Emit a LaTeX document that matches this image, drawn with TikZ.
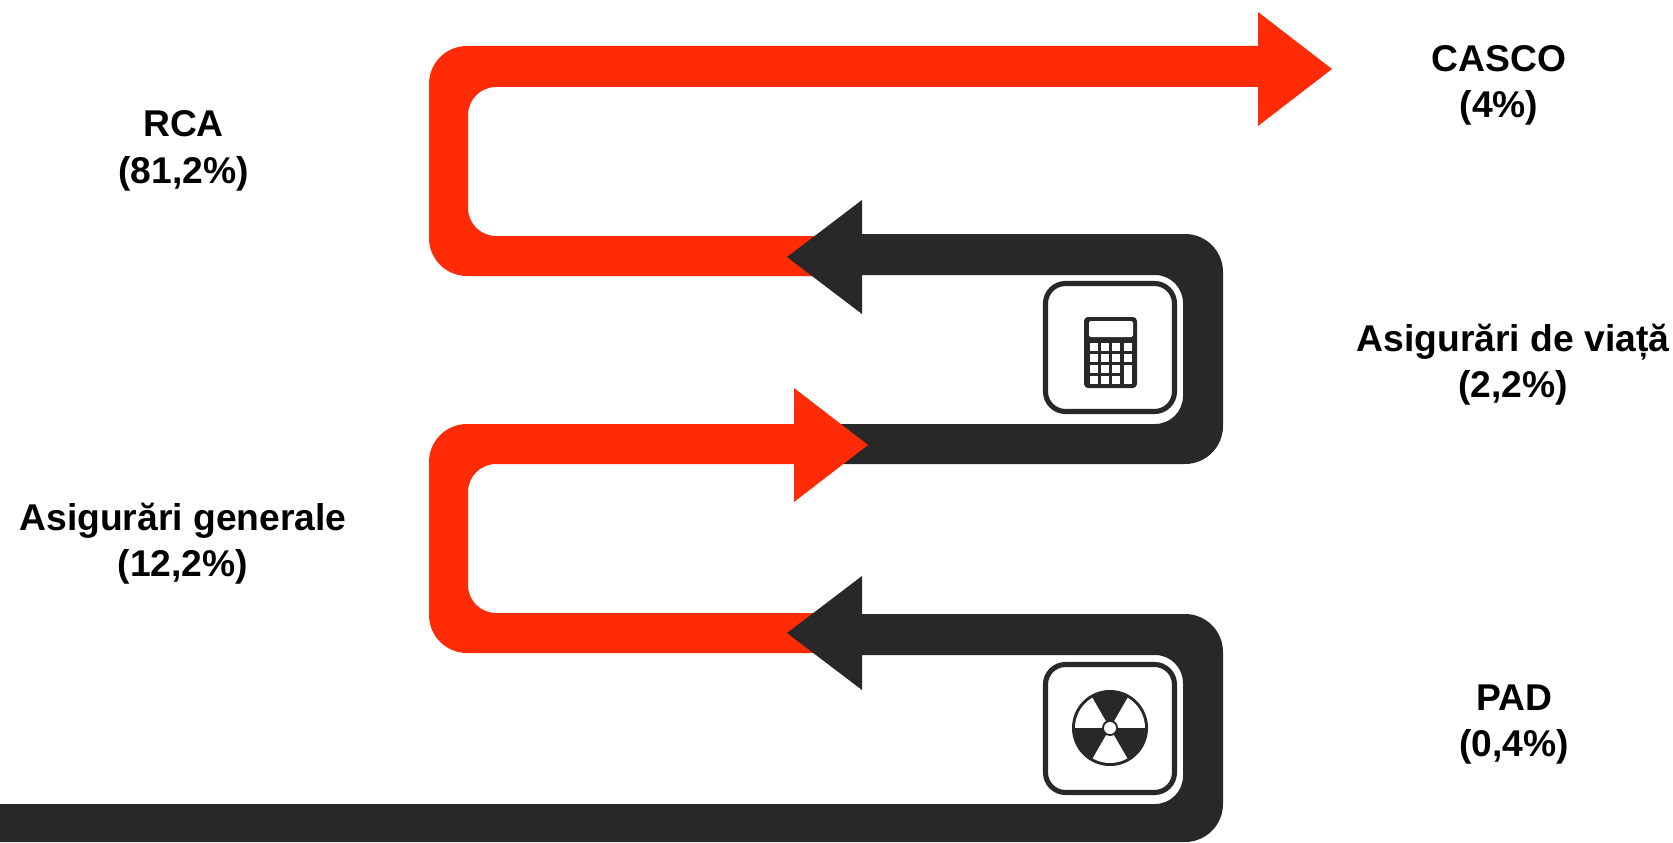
\documentclass[tikz,border=0pt]{standalone}
\usepackage{fontspec}
\setmainfont{Liberation Sans}
\definecolor{bandred}{HTML}{FF2B07}
\definecolor{banddark}{HTML}{282828}
\begin{document}
\begin{tikzpicture}[x=1cm,y=1cm, every node/.style={font=\fontsize{10.6}{13.2}\selectfont\bfseries, align=center}]
  % canvas 1673x842 px, 100 px = 1 cm
  \useasboundingbox (0,0) rectangle (16.73,8.42);
  \tikzset{iconbox/.style={draw=banddark, line width=1.45pt, fill=white, rounded corners=0.2cm}}

  % -- top red band, from the first dark head up to the long arrow --
  \fill[bandred] (8.2,5.66) -- (4.67,5.66) arc (270:180:0.38) -- (4.29,7.58) arc (180:90:0.38)
    -- (12.58,7.96) -- (12.58,8.30) -- (13.32,7.73) -- (12.58,7.16) -- (12.58,7.55)
    -- (4.96,7.55) arc (90:180:0.28) -- (4.68,6.34) arc (180:270:0.28) -- (8.2,6.06) -- cycle;

  % -- upper dark band --
  \fill[banddark] (8.3,3.78) -- (11.85,3.78) arc (-90:0:0.38) -- (12.23,5.70) arc (0:90:0.38)
    -- (8.62,6.08) -- (8.62,6.42) -- (7.87,5.85) -- (8.62,5.28) -- (8.62,5.67)
    -- (11.55,5.67) arc (90:0:0.28) -- (11.83,4.46) arc (0:-90:0.28) -- (8.3,4.18) -- cycle;

  % -- second red band --
  \fill[bandred] (8.2,1.89) -- (4.67,1.89) arc (270:180:0.38) -- (4.29,3.80) arc (180:90:0.38)
    -- (7.94,4.18) -- (7.94,4.54) -- (8.68,3.97) -- (7.94,3.40) -- (7.94,3.78)
    -- (4.96,3.78) arc (90:180:0.28) -- (4.68,2.57) arc (180:270:0.28) -- (8.2,2.29) -- cycle;

  % -- lower dark band, runs off the left edge --
  \fill[banddark] (0,0) -- (11.85,0) arc (-90:0:0.38) -- (12.23,1.90) arc (0:90:0.38)
    -- (8.62,2.28) -- (8.62,2.66) -- (7.87,2.09) -- (8.62,1.52) -- (8.62,1.87)
    -- (11.55,1.87) arc (90:0:0.28) -- (11.83,0.66) arc (0:-90:0.28) -- (0,0.38) -- cycle;

  % -- calculator icon --
  \draw[iconbox] (10.455,4.305) rectangle (11.745,5.585);
  \fill[banddark, rounded corners=0.04cm] (10.84,4.54) rectangle (11.37,5.25);
  \fill[white, rounded corners=0.02cm] (10.89,5.05) rectangle (11.33,5.21);
  \foreach \kx in {10.895,11.01,11.12}{
    \foreach \ky in {4.995,4.885,4.775,4.665}{
      \fill[white] (\kx,\ky) rectangle ++(0.08,-0.08); }}
  \foreach \ky in {4.995,4.885}{
    \fill[white] (11.235,\ky) rectangle ++(0.085,-0.08); }
  \fill[white] (11.235,4.775) rectangle (11.32,4.585);

  % -- radiation icon --
  \draw[iconbox] (10.455,0.495) rectangle (11.745,1.775);
  \coordinate (hub) at (11.10,1.14);
  \fill[banddark] (hub) circle (0.38);
  \fill[white] (hub) circle (0.35);
  \foreach \a in {60,180,300}{
    \fill[banddark] (hub) -- ++(\a:0.37) arc (\a:\a+60:0.37) -- cycle; }
  \fill[banddark] (hub) circle (0.08);
  \fill[white] (hub) circle (0.06);

  % -- labels --
  \node (rca) at (1.835,6.91) {RCA\\(81,2\%)};
  \node (casco) at (14.99,7.565) {CASCO\\(4\%)};
  \node (viata) at (15.13,4.775) {Asigurări de viață\\(2,2\%)};
  \node (generale) at (1.83,2.985) {Asigurări generale\\(12,2\%)};
  \node (pad) at (15.14,1.175) {PAD\\(0,4\%)};
\end{tikzpicture}
\end{document}
